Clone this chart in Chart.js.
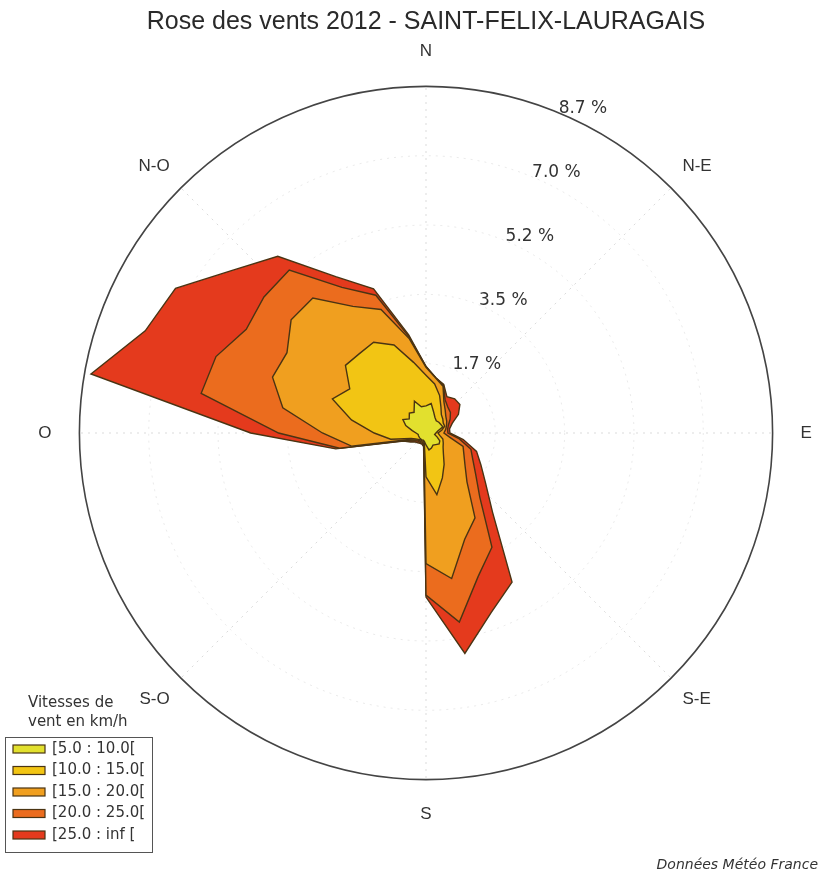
<!DOCTYPE html>
<html>
<head>
<meta charset="utf-8">
<script src="https://cdn.jsdelivr.net/npm/chart.js@4.4.1/dist/chart.umd.min.js"></script>
<style>
  html, body { margin: 0; padding: 0; background: #ffffff; }
  #wrap { position: relative; width: 827px; height: 877px; }
</style>
</head>
<body>
<div id="wrap"><canvas id="c"></canvas></div>
<script>
// ---------- data ----------
const titleText = 'Rose des vents 2012 - SAINT-FELIX-LAURAGAIS';
const sourceText = 'Données Météo France';
const legendTitle = ['Vitesses de', 'vent en km/h'];
const speedClasses = ['[5.0 : 10.0[', '[10.0 : 15.0[', '[15.0 : 20.0[', '[20.0 : 25.0[', '[25.0 : inf ['];
const compassLabels = ['N', 'N-E', 'E', 'S-E', 'S', 'S-O', 'O', 'N-O'];

// wind direction (degrees, 0 = North, clockwise)
const directions = [0, 10, 20, 30, 40, 50, 60, 70, 80, 90, 100, 110, 120, 130, 140, 150, 160, 170,
                    180, 190, 200, 210, 220, 230, 240, 250, 260, 270, 280, 290, 300, 310, 320, 330, 340, 350];

// frequency (%) of each speed class per direction
const freq5to10  = [0.68, 0.75, 0.56, 0.45, 0.40, 0.42, 0.43, 0.45, 0.30, 0.25,
                    0.22, 0.30, 0.40, 0.43, 0.38, 0.35, 0.40, 0.43, 0.30, 0.22,
                    0.19, 0.20, 0.20, 0.20, 0.20, 0.20, 0.20, 0.25, 0.35, 0.54,
                    0.67, 0.55, 0.65, 0.60, 0.85, 0.67];
const freq10to15 = [0.77, 0.50, 0.44, 0.30, 0.20, 0.13, 0.07, 0.05, 0.10, 0.05,
                    0.13, 0.15, 0.10, 0.13, 0.30, 0.56, 0.80, 1.14, 0.80, 0.03,
                    0.03, 0.02, 0.02, 0.05, 0.10, 0.20, 0.70, 1.05, 1.55, 1.96,
                    1.54, 2.09, 1.95, 2.03, 1.50, 1.13];
const freq15to20 = [0.20, 0.15, 0.25, 0.15, 0.15, 0.10, 0.10, 0.05, 0.10, 0.15,
                    0.25, 0.54, 0.60, 0.72, 0.92, 1.55, 1.64, 2.14, 2.18, 0.05,
                    0.03, 0.03, 0.03, 0.03, 0.05, 0.10, 1.00, 1.30, 1.75, 1.60,
                    1.82, 1.78, 1.82, 1.04, 0.95, 0.60];
const freq20to25 = [0.02, 0.01, 0.03, 0.06, 0.10, 0.15, 0.10, 0.05, 0.05, 0.10,
                    0.25, 0.21, 0.26, 0.35, 0.50, 0.85, 0.99, 1.11, 0.79, 0.03,
                    0.03, 0.03, 0.03, 0.02, 0.05, 0.05, 0.30, 1.10, 2.08, 1.51,
                    1.18, 0.89, 0.92, 0.55, 0.38, 0.05];
const freq25plus = [0.00, 0.00, 0.02, 0.09, 0.27, 0.31, 0.24, 0.10, 0.05, 0.05,
                    0.10, 0.15, 0.23, 0.32, 0.50, 1.01, 0.96, 0.80, 0.05, 0.02,
                    0.02, 0.02, 0.04, 0.05, 0.05, 0.05, 0.10, 0.70, 2.81, 1.89,
                    2.05, 1.04, 0.45, 0.31, 0.17, 0.05];

// radial rings (%)
const ringValues = [0, 1.74, 3.48, 5.22, 6.96, 8.7];
const ringLabels = ['', '1.7 %', '3.5 %', '5.2 %', '7.0 %', '8.7 %'];

// ---------- styles ----------
const classColors = ['#e2e02e', '#f2c514', '#f09f1f', '#eb6c1e', '#e43a1d'];
const edgeColor = '#4a3413';

// ---------- build chart table ----------
const SLOTS = 72;                    // 5 degree slots, compass labels every 45 degrees
const STEP = 360 / SLOTS;
const PER_LABEL = SLOTS / compassLabels.length;
const labels = Array.from({ length: SLOTS }, (_, i) => (i % PER_LABEL === 0 ? compassLabels[i / PER_LABEL] : ''));

const classes = [freq5to10, freq10to15, freq15to20, freq20to25, freq25plus];
let running = directions.map(() => 0);
const datasets = classes.map((arr, k) => {
  running = running.map((v, i) => v + arr[i]);
  const data = new Array(SLOTS).fill(null);
  directions.forEach((d, i) => { data[Math.round(d / STEP)] = +running[i].toFixed(3); });
  return {
    label: speedClasses[k],
    data,
    backgroundColor: classColors[k],
    borderColor: edgeColor,
    borderWidth: 1.4,
    fill: 'origin',
    spanGaps: true,
    pointRadius: 0,
    pointHoverRadius: 0,
    pointHitRadius: 0
  };
});

const LAST = ringValues.length - 1;

const overlay = {
  id: 'overlay',
  afterDraw(chart) {
    const { ctx } = chart;
    const s = chart.scales.r;
    ctx.save();
    // ring labels along 22.5 degrees
    ctx.font = '17px "DejaVu Sans"';
    ctx.fillStyle = '#333';
    ctx.textAlign = 'left';
    ctx.textBaseline = 'alphabetic';
    const a = 22.5 * Math.PI / 180;
    ringValues.forEach((v, i) => {
      if (!ringLabels[i]) return;
      const d = s.getDistanceFromCenterForValue(v);
      ctx.fillText(ringLabels[i], s.xCenter + d * Math.sin(a), s.yCenter - d * Math.cos(a));
    });
    // legend
    ctx.font = '15px "DejaVu Sans"';
    ctx.textBaseline = 'middle';
    ctx.fillStyle = '#333';
    legendTitle.forEach((t, i) => ctx.fillText(t, 28, 703 + i * 19));
    ctx.strokeStyle = '#555';
    ctx.lineWidth = 1;
    ctx.strokeRect(5.5, 737.5, 147, 115);
    chart.data.datasets.forEach((ds, i) => {
      const y = 749 + i * 21.5;
      ctx.fillStyle = ds.backgroundColor;
      ctx.fillRect(13, y - 4, 32, 8);
      ctx.strokeStyle = ds.borderColor;
      ctx.lineWidth = 1.2;
      ctx.strokeRect(13, y - 4, 32, 8);
      ctx.fillStyle = '#333';
      ctx.fillText(ds.label, 52, y);
    });
    ctx.restore();
  }
};

Chart.defaults.font.family = '"DejaVu Sans"';

new Chart(document.getElementById('c'), {
  type: 'radar',
  data: { labels, datasets },
  plugins: [overlay],
  options: {
    responsive: true,
    maintainAspectRatio: false,
    animation: false,
    events: [],
    layout: { padding: { left: 34, right: 9, top: 0, bottom: 0 } },
    plugins: {
      legend: { display: false },
      tooltip: { enabled: false },
      title: {
        display: true,
        text: titleText,
        color: '#2a2a2a',
        font: { family: '"Liberation Sans"', size: 25, weight: 'normal' },
        padding: { top: 7, bottom: 4 }
      },
      subtitle: {
        display: true,
        text: sourceText,
        position: 'bottom',
        align: 'end',
        color: '#333',
        font: { family: '"DejaVu Sans"', size: 14, style: 'italic', weight: 'normal' },
        padding: { top: 32, bottom: 3 }
      }
    },
    scales: {
      r: {
        min: 0,
        max: 8.7,
        startAngle: 0,
        afterBuildTicks: (scale) => { scale.ticks = ringValues.map(v => ({ value: v })); },
        ticks: { display: false },
        grid: {
          circular: true,
          color: (c) => (c.index === LAST ? '#444' : 'rgba(160,160,160,0.22)'),
          lineWidth: (c) => (c.index === LAST ? 1.6 : 1),
          borderDash: (c) => (c.index === LAST ? [] : [2, 5])
        },
        border: { dash: (c) => (c.index === LAST ? [] : [2, 5]) },
        angleLines: {
          display: true,
          color: (c) => (c.index % PER_LABEL === 0 ? 'rgba(150,150,150,0.35)' : 'rgba(0,0,0,0)'),
          lineWidth: (c) => (c.index % PER_LABEL === 0 ? 1 : 0),
          borderDash: [2, 5]
        },
        pointLabels: {
          display: true,
          color: '#333',
          font: { family: '"Liberation Sans"', size: 17 },
          padding: (c) => {
            if (!c.label) return 0;
            const k = c.index / PER_LABEL;
            return k % 2 === 1 ? 16 : (k % 4 === 0 ? 25 : 28);
          }
        }
      }
    }
  }
});
</script>
</body>
</html>
